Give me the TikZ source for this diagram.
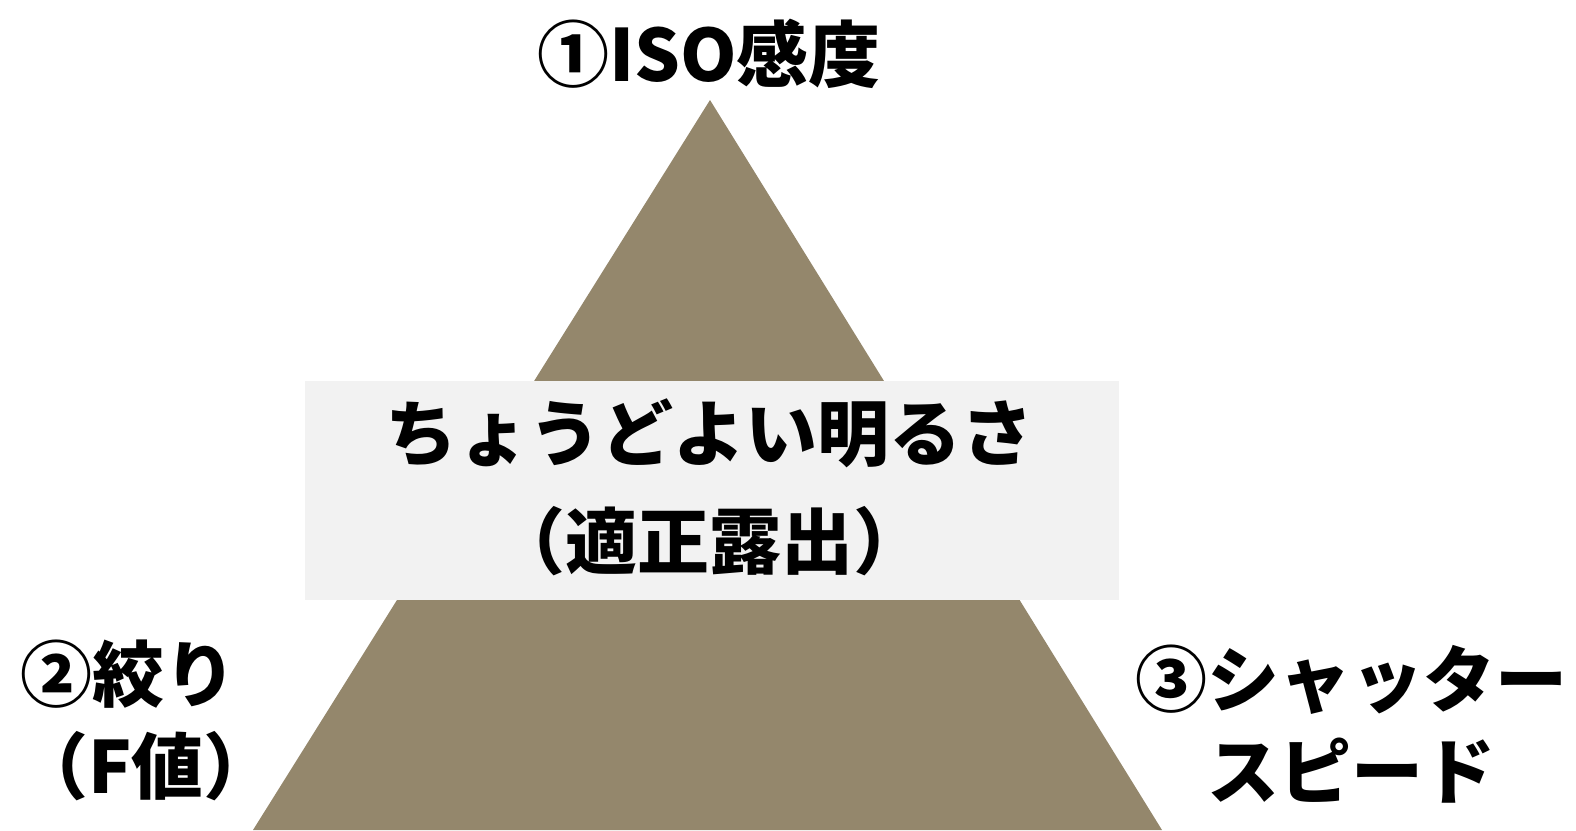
\documentclass[tikz,border=0pt]{standalone}
\usepackage{fontspec}
\setmainfont{Noto Sans CJK JP}
\definecolor{pyr}{RGB}{148,135,108}
\definecolor{boxgrey}{RGB}{242,242,242}
\tikzset{
  lbl/.style={inner sep=0pt, align=center, font=\fontsize{72}{92}\selectfont\bfseries},
  midlbl/.style={inner sep=0pt, align=center, font=\fontsize{72}{108}\selectfont\bfseries}
}
\begin{document}
\begin{tikzpicture}[x=1pt,y=-1pt]
\useasboundingbox (0,0) rectangle (1576,830);
\coordinate (apex) at (710,100);
\coordinate (bl) at (253,830);
\coordinate (br) at (1162,830);
\fill[pyr] (apex) -- (bl) -- (br) -- cycle;
\fill[boxgrey] (305,381) rectangle (1119,600);
\node[midlbl] (center) at (709,487) {ちょうどよい明るさ\\（適正露出）};
\node[lbl] (iso) at (709,54) {①ISO感度};
\node[lbl, anchor=base] (ap) at (128,701) {②絞り};
\node[lbl, anchor=base] (apf) at (146,793) {（F値）};
\node[lbl] (sh) at (1351,724) {③シャッター\\スピード};
\end{tikzpicture}
\end{document}
